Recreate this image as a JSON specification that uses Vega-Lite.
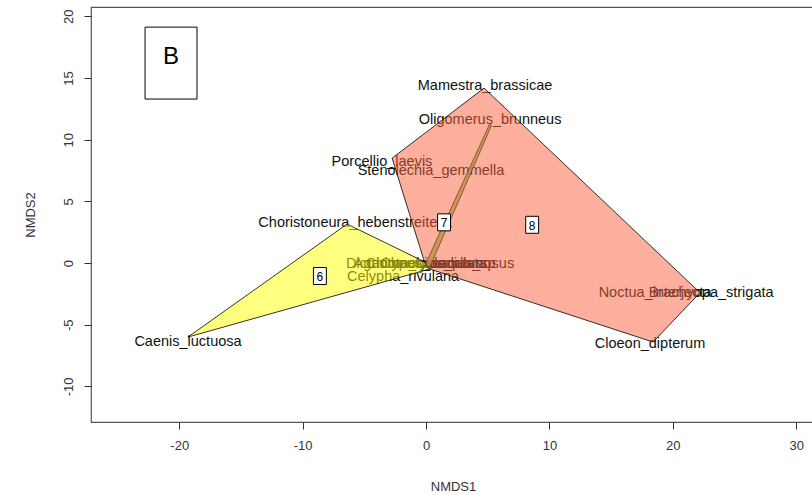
{
  "$schema": "https://vega.github.io/schema/vega-lite/v6.json",
  "width": 724,
  "height": 415,
  "autosize": {"type": "none"},
  "padding": {"left": 91, "top": 7, "right": 0, "bottom": 73},
  "background": "white",
  "config": {"view": {"stroke": "#555", "strokeWidth": 1.2}, "font": "Liberation Sans"},
  "datasets": {
    "species": [
      {"name": "Mamestra_brassicae", "x": 4.78, "y": 14.34},
      {"name": "Oligomerus_brunneus", "x": 5.19, "y": 11.59},
      {"name": "Porcellio_laevis", "x": -3.57, "y": 8.18},
      {"name": "Stenolechia_gemmella", "x": 0.4, "y": 7.46},
      {"name": "Choristoneura_hebenstreitella", "x": -5.75, "y": 3.24},
      {"name": "Dicranota_bimaculata", "x": -0.8, "y": -0.08},
      {"name": "Agriotypus_armatus", "x": -0.65, "y": -0.08},
      {"name": "Chironomus_plumosus", "x": 1.13, "y": -0.08},
      {"name": "Chaetocladius_sp", "x": 0.97, "y": -0.08},
      {"name": "Celypha_rivulana", "x": -1.86, "y": -1.13},
      {"name": "Caenis_luctuosa", "x": -19.29, "y": -6.4},
      {"name": "Cloeon_dipterum", "x": 18.15, "y": -6.56},
      {"name": "Noctua_interjecta", "x": 18.56, "y": -2.43},
      {"name": "Brachyopa_strigata", "x": 23.1, "y": -2.43}
    ],
    "hulls": [
      {"g": "6", "i": 1, "x": -19.3, "y": -6.0},
      {"g": "6", "i": 2, "x": -6.4, "y": 3.16},
      {"g": "6", "i": 3, "x": -0.08, "y": 0.08},
      {"g": "6", "i": 4, "x": 0.4, "y": -0.45},
      {"g": "6", "i": 5, "x": -19.3, "y": -6.0},
      {"g": "8", "i": 1, "x": 4.7, "y": 14.18},
      {"g": "8", "i": 2, "x": 22.2, "y": -2.4},
      {"g": "8", "i": 3, "x": 18.4, "y": -6.4},
      {"g": "8", "i": 4, "x": 0.2, "y": -0.45},
      {"g": "8", "i": 5, "x": -0.1, "y": 0.0},
      {"g": "8", "i": 6, "x": -2.75, "y": 8.5},
      {"g": "8", "i": 7, "x": 4.7, "y": 14.18},
      {"g": "7", "i": 1, "x": 5.15, "y": 11.25},
      {"g": "7", "i": 2, "x": 5.3, "y": 11.15},
      {"g": "7", "i": 3, "x": 0.3, "y": -0.35},
      {"g": "7", "i": 4, "x": -0.05, "y": -0.1},
      {"g": "7", "i": 5, "x": 5.15, "y": 11.25},
      {"g": "5", "i": 1, "x": 0.05, "y": 0.05},
      {"g": "5", "i": 2, "x": -0.55, "y": -0.75},
      {"g": "5", "i": 3, "x": -0.4, "y": -0.8},
      {"g": "5", "i": 4, "x": 0.05, "y": 0.05}
    ],
    "groups": [
      {"g": "6", "x": -8.6, "y": -1.05},
      {"g": "7", "x": 1.46, "y": 3.3},
      {"g": "8", "x": 8.6, "y": 3.1}
    ],
    "panel": [
      {"label": "B", "x": -22.77, "x2": -18.56, "y": 19.12, "y2": 13.29, "cx": -20.66, "cy": 16.7}
    ]
  },
  "encoding": {
    "x": {
      "field": "x", "type": "quantitative",
      "scale": {"domain": [-27.15, 31.52], "nice": false, "zero": false},
      "axis": {
        "values": [-20, -10, 0, 10, 20, 30], "title": "NMDS1", "grid": false, "domain": false,
        "labelExpr": "'' + datum.value",
        "tickSize": 7, "tickColor": "#333", "labelFontSize": 13, "labelColor": "#333",
        "labelPadding": 10, "labelFlush": false, "titleFontSize": 13, "titleFontWeight": "normal",
        "titleColor": "#333", "titlePadding": 28
      }
    },
    "y": {
      "field": "y", "type": "quantitative",
      "scale": {"domain": [-12.88, 20.75], "nice": false, "zero": false},
      "axis": {
        "values": [-10, -5, 0, 5, 10, 15, 20], "title": "NMDS2", "grid": false, "domain": false,
        "labelExpr": "'' + datum.value",
        "tickSize": 7, "tickColor": "#333", "labelFontSize": 13, "labelColor": "#333",
        "labelAngle": -90, "labelAlign": "center", "labelBaseline": "bottom",
        "labelPadding": 9, "labelFlush": false, "titleFontSize": 13, "titleFontWeight": "normal",
        "titleColor": "#333", "titlePadding": 25
      }
    }
  },
  "layer": [
    {
      "data": {"name": "species"},
      "mark": {"type": "text", "fontSize": 14.5, "color": "#111", "font": "Liberation Sans"},
      "encoding": {"text": {"field": "name"}}
    },
    {
      "data": {"name": "hulls"},
      "transform": [{"filter": "datum.g == '6'"}],
      "mark": {"type": "line", "fill": "#FFFF00", "fillOpacity": 0.5, "stroke": "black", "strokeWidth": 0.8},
      "encoding": {"order": {"field": "i", "type": "quantitative"}}
    },
    {
      "data": {"name": "hulls"},
      "transform": [{"filter": "datum.g == '8'"}],
      "mark": {"type": "line", "fill": "#F7603A", "fillOpacity": 0.5, "stroke": "black", "strokeWidth": 0.8},
      "encoding": {"order": {"field": "i", "type": "quantitative"}}
    },
    {
      "data": {"name": "hulls"},
      "transform": [{"filter": "datum.g == '7'"}],
      "mark": {"type": "line", "fill": "#C8914A", "fillOpacity": 0.85, "stroke": "#5a3a1a", "strokeWidth": 0.7},
      "encoding": {"order": {"field": "i", "type": "quantitative"}}
    },
    {
      "data": {"name": "hulls"},
      "transform": [{"filter": "datum.g == '5'"}],
      "mark": {"type": "line", "fill": "#5DA93B", "fillOpacity": 0.85, "stroke": "#2d5a1a", "strokeWidth": 0.7},
      "encoding": {"order": {"field": "i", "type": "quantitative"}}
    },
    {
      "data": {"name": "groups"},
      "mark": {"type": "point", "shape": "M-0.76,-1L0.76,-1L0.76,1L-0.76,1Z", "size": 289, "filled": true, "fill": "white", "fillOpacity": 1, "stroke": "black", "strokeWidth": 1, "opacity": 1}
    },
    {
      "data": {"name": "groups"},
      "mark": {"type": "text", "fontSize": 12, "color": "black", "dy": 1},
      "encoding": {"text": {"field": "g"}}
    },
    {
      "data": {"name": "panel"},
      "mark": {"type": "rect", "fill": "white", "stroke": "black", "strokeWidth": 1},
      "encoding": {"x2": {"field": "x2"}, "y2": {"field": "y2"}}
    },
    {
      "data": {"name": "panel"},
      "mark": {"type": "text", "fontSize": 24, "color": "black", "font": "Liberation Sans"},
      "encoding": {
        "x": {"field": "cx", "type": "quantitative"},
        "y": {"field": "cy", "type": "quantitative"},
        "text": {"field": "label"}
      }
    }
  ]
}
